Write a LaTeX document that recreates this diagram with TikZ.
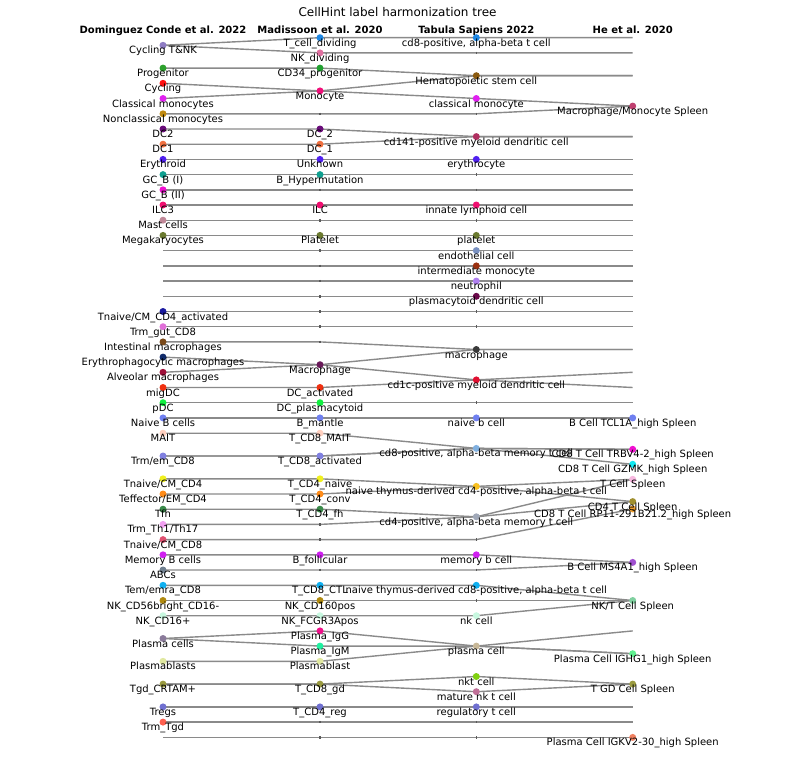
\documentclass[tikz,border=0pt]{standalone}
\usepackage{fontspec}
\setmainfont{DejaVu Sans}
\definecolor{lnc}{HTML}{8A8A8A}
\definecolor{tkc}{HTML}{5A5A5A}
\newcommand\pos[3]{\coordinate (#1) at (#2,#3);}
\newcommand\mk[3]{\definecolor{cc}{HTML}{#2}\node[dot,fill=cc] (#1d) at (#1) {};\node[lbl] (#1t) at ([yshift=-8.5pt]#1) {#3};}
\newcommand\tick[1]{\draw[tk] ([yshift=1.3pt]#1) -- ([yshift=-1.3pt]#1);}
\begin{document}
\begin{tikzpicture}[x=1pt,y=-1pt,
  ln/.style={draw=lnc,line width=1.4pt,line join=round},
  dot/.style={circle,inner sep=0pt,minimum size=7pt,draw=none},
  lbl/.style={anchor=base,inner sep=0pt,font=\fontsize{10}{12}\selectfont},
  hdr/.style={anchor=base,inner sep=0pt,font=\fontsize{10}{12}\selectfont\bfseries},
  tk/.style={draw=tkc,line width=1.4pt}]
\useasboundingbox (0,0) rectangle (795,760);
\def\xa{163}\def\xb{320}\def\xc{476.3}\def\xd{632.7}
% ---- column A positions
\pos{A0}{\xa}{45.3}\pos{A2}{\xa}{68.1}\pos{A3}{\xa}{83.3}\pos{A4}{\xa}{98.5}
\pos{A5}{\xa}{113.8}\pos{A6}{\xa}{129.0}\pos{A7}{\xa}{144.2}\pos{A8}{\xa}{159.4}
\pos{A9}{\xa}{174.6}\pos{A10}{\xa}{189.8}\pos{A11}{\xa}{205.0}\pos{A12}{\xa}{220.2}
\pos{A13}{\xa}{235.4}\pos{A14}{\xa}{250.6}\pos{A15}{\xa}{265.9}\pos{A16}{\xa}{281.1}
\pos{A17}{\xa}{296.3}\pos{A18}{\xa}{311.5}\pos{A19}{\xa}{326.7}\pos{A20}{\xa}{341.9}
\pos{A21}{\xa}{357.1}\pos{A22}{\xa}{372.3}\pos{A23}{\xa}{387.5}\pos{A24}{\xa}{402.7}
\pos{A25}{\xa}{417.9}\pos{A26}{\xa}{433.2}\pos{A27}{\xa}{456.0}\pos{A29}{\xa}{478.8}
\pos{A30}{\xa}{494.0}\pos{A31}{\xa}{509.2}\pos{A32}{\xa}{524.4}\pos{A33}{\xa}{539.6}
\pos{A34}{\xa}{554.8}\pos{A35}{\xa}{570.0}\pos{A36}{\xa}{585.3}\pos{A37}{\xa}{600.5}
\pos{A38}{\xa}{615.7}\pos{A39}{\xa}{638.5}\pos{A41}{\xa}{661.3}\pos{A42}{\xa}{684.1}
\pos{A44}{\xa}{706.9}\pos{A45}{\xa}{722.1}\pos{A46}{\xa}{737.4}
% ---- column B positions
\pos{B0}{\xb}{37.7}\pos{B1}{\xb}{52.9}\pos{B2}{\xb}{68.1}\pos{B3}{\xb}{90.9}
\pos{B5}{\xb}{113.8}\pos{B6}{\xb}{129.0}\pos{B7}{\xb}{144.2}\pos{B8}{\xb}{159.4}
\pos{B9}{\xb}{174.6}\pos{B10}{\xb}{189.8}\pos{B11}{\xb}{205.0}\pos{B12}{\xb}{220.2}
\pos{B13}{\xb}{235.4}\pos{B14}{\xb}{250.6}\pos{B15}{\xb}{265.9}\pos{B16}{\xb}{281.1}
\pos{B17}{\xb}{296.3}\pos{B18}{\xb}{311.5}\pos{B19}{\xb}{326.7}\pos{B20}{\xb}{341.9}
\pos{B21}{\xb}{364.7}\pos{B23}{\xb}{387.5}\pos{B24}{\xb}{402.7}\pos{B25}{\xb}{417.9}
\pos{B26}{\xb}{433.2}\pos{B27}{\xb}{456.0}\pos{B29}{\xb}{478.8}\pos{B30}{\xb}{494.0}
\pos{B31}{\xb}{509.2}\pos{B32}{\xb}{524.4}\pos{B33}{\xb}{539.6}\pos{B34}{\xb}{554.8}
\pos{B35}{\xb}{570.0}\pos{B36}{\xb}{585.3}\pos{B37}{\xb}{600.5}\pos{B38}{\xb}{615.7}
\pos{B39}{\xb}{630.9}\pos{B40}{\xb}{646.1}\pos{B41}{\xb}{661.3}\pos{B42}{\xb}{684.1}
\pos{B44}{\xb}{706.9}\pos{B45}{\xb}{722.1}\pos{B46}{\xb}{737.4}
% ---- column C positions
\pos{C0}{\xc}{37.7}\pos{C1}{\xc}{52.9}\pos{C2}{\xc}{75.7}\pos{C4}{\xc}{98.5}
\pos{C5}{\xc}{113.8}\pos{C6}{\xc}{136.6}\pos{C8}{\xc}{159.4}\pos{C9}{\xc}{174.6}
\pos{C10}{\xc}{189.8}\pos{C11}{\xc}{205.0}\pos{C12}{\xc}{220.2}\pos{C13}{\xc}{235.4}
\pos{C14}{\xc}{250.6}\pos{C15}{\xc}{265.9}\pos{C16}{\xc}{281.1}\pos{C17}{\xc}{296.3}
\pos{C18}{\xc}{311.5}\pos{C19}{\xc}{326.7}\pos{C20}{\xc}{349.5}\pos{C22}{\xc}{379.9}
\pos{C24}{\xc}{402.7}\pos{C25}{\xc}{417.9}\pos{C27}{\xc}{448.4}\pos{C29}{\xc}{486.4}
\pos{C31}{\xc}{516.8}\pos{C33}{\xc}{539.6}\pos{C34}{\xc}{554.8}\pos{C35}{\xc}{570.0}
\pos{C36}{\xc}{585.3}\pos{C37}{\xc}{600.5}\pos{C38}{\xc}{615.7}\pos{C40}{\xc}{646.1}
\pos{C42}{\xc}{676.5}\pos{C43}{\xc}{691.7}\pos{C44}{\xc}{706.9}\pos{C45}{\xc}{722.1}
\pos{C46}{\xc}{737.4}
% ---- column D positions
\pos{Dn0}{\xd}{37.7}\pos{Dn1}{\xd}{52.9}\pos{Dn2}{\xd}{75.7}\pos{D4}{\xd}{106.1}
\pos{Dn6}{\xd}{136.6}\pos{Dn8}{\xd}{159.4}\pos{Dn9}{\xd}{174.6}\pos{Dn10}{\xd}{189.8}
\pos{Dn11}{\xd}{205.0}\pos{Dn12}{\xd}{220.2}\pos{Dn13}{\xd}{235.4}\pos{Dn14}{\xd}{250.6}
\pos{Dn15}{\xd}{265.9}\pos{Dn16}{\xd}{281.1}\pos{Dn17}{\xd}{296.3}\pos{Dn18}{\xd}{311.5}
\pos{Dn19}{\xd}{326.7}\pos{Dn20}{\xd}{349.5}\pos{Dn22}{\xd}{372.3}\pos{Dn23}{\xd}{387.5}
\pos{Dn24}{\xd}{402.7}\pos{D25}{\xd}{417.9}\pos{D27}{\xd}{449.3}\pos{D28}{\xd}{464.3}
\pos{D29}{\xd}{479.3}\pos{D30}{\xd}{501.6}\pos{D31}{\xd}{509.0}\pos{D34}{\xd}{562.4}
\pos{D37}{\xd}{600.5}\pos{Dn39}{\xd}{630.9}\pos{D40}{\xd}{653.7}\pos{D42}{\xd}{684.1}
\pos{Dn44}{\xd}{706.9}\pos{Dn45}{\xd}{722.1}\pos{D46}{\xd}{737.4}
% ---- title and headers
\node[anchor=base,inner sep=0pt,font=\fontsize{12}{14}\selectfont] (title) at (397.5,17) {CellHint label harmonization tree};
\node[hdr] (hA) at (\xa,33.3) {Dominguez Conde et al. 2022};
\node[hdr] (hB) at (\xb,33.3) {Madissoon et al. 2020};
\node[hdr] (hC) at (\xc,33.3) {Tabula Sapiens 2022};
\node[hdr] (hD) at (\xd,33.3) {He et al. 2020};
% ---- connectors
\draw[ln] (A0)--(B0)--(C0)--(Dn0);
\draw[ln] (A0)--(B1)--(C1)--(Dn1);
\draw[ln] (A2)--(B2)--(C2)--(Dn2);
\draw[ln] (A3)--(B3)--(C2)--(Dn2);
\draw[ln] (A4)--(B3)--(C4)--(D4);
\draw[ln] (A5)--(B5)--(C5)--(D4);
\draw[ln] (A6)--(B6)--(C6)--(Dn6);
\draw[ln] (A7)--(B7)--(C6)--(Dn6);
\draw[ln] (A8)--(B8)--(C8)--(Dn8);
\draw[ln] (A9)--(B9)--(C9)--(Dn9);
\draw[ln] (A10)--(B10)--(C10)--(Dn10);
\draw[ln] (A11)--(B11)--(C11)--(Dn11);
\draw[ln] (A12)--(B12)--(C12)--(Dn12);
\draw[ln] (A13)--(B13)--(C13)--(Dn13);
\draw[ln] (A14)--(B14)--(C14)--(Dn14);
\draw[ln] (A15)--(B15)--(C15)--(Dn15);
\draw[ln] (A16)--(B16)--(C16)--(Dn16);
\draw[ln] (A17)--(B17)--(C17)--(Dn17);
\draw[ln] (A18)--(B18)--(C18)--(Dn18);
\draw[ln] (A19)--(B19)--(C19)--(Dn19);
\draw[ln] (A20)--(B20)--(C20)--(Dn20);
\draw[ln] (A21)--(B21)--(C20)--(Dn20);
\draw[ln] (A22)--(B21)--(C22)--(Dn22);
\draw[ln] (A23)--(B23)--(C22)--(Dn23);
\draw[ln] (A24)--(B24)--(C24)--(Dn24);
\draw[ln] (A25)--(B25)--(C25)--(D25);
\draw[ln] (A26)--(B26)--(C27)--(D27);
\draw[ln] (A27)--(B27)--(C27)--(D27);
\draw[ln] (A27)--(B27)--(C27)--(D28);
\draw[ln] (A29)--(B29)--(C29)--(D30);
\draw[ln] (A30)--(B30)--(C29)--(D29);
\draw[ln] (A31)--(B31)--(C31)--(D30);
\draw[ln] (A32)--(B32)--(C31)--(D29);
\draw[ln] (A33)--(B33)--(C33)--(D31);
\draw[ln] (A34)--(B34)--(C34)--(D34);
\draw[ln] (A35)--(B35)--(C35)--(D34);
\draw[ln] (A36)--(B36)--(C36)--(D37);
\draw[ln] (A37)--(B37)--(C37)--(D37);
\draw[ln] (A38)--(B38)--(C38)--(D37);
\draw[ln] (A39)--(B39)--(C40)--(Dn39);
\draw[ln] (A39)--(B40)--(C40)--(D40);
\draw[ln] (A41)--(B41)--(C40)--(D40);
\draw[ln] (A42)--(B42)--(C42)--(D42);
\draw[ln] (A42)--(B42)--(C43)--(D42);
\draw[ln] (A44)--(B44)--(C44)--(Dn44);
\draw[ln] (A45)--(B45)--(C45)--(Dn45);
\draw[ln] (A46)--(B46)--(C46)--(D46);
% ---- unmatched ticks
\foreach \t in {B5,B10,B12,B14,B15,B16,B17,B18,B19,B20,B32,B33,B35,B45,B46,
  C1,C5,C9,C10,C12,C18,C19,C24,C33,C35,C37,C45,C46} {\tick{\t}}
% ---- column A cells
\mk{A0}{8E7CC3}{Cycling T\&NK}
\mk{A2}{2CA02C}{Progenitor}
\mk{A3}{FF1010}{Cycling}
\mk{A4}{E020F0}{Classical monocytes}
\mk{A5}{C08A10}{Nonclassical monocytes}
\mk{A6}{6A0D7A}{DC2}
\mk{A7}{F07040}{DC1}
\mk{A8}{5020F0}{Erythroid}
\mk{A9}{10A090}{GC\_B (I)}
\mk{A10}{F010D0}{GC\_B (II)}
\mk{A11}{F01070}{ILC3}
\mk{A12}{C08898}{Mast cells}
\mk{A13}{6B7A30}{Megakaryocytes}
\mk{A18}{1A1AA0}{Tnaive/CM\_CD4\_activated}
\mk{A19}{E070D8}{Trm\_gut\_CD8}
\mk{A20}{7A4A1A}{Intestinal macrophages}
\mk{A21}{102A6A}{Erythrophagocytic macrophages}
\mk{A22}{A0103A}{Alveolar macrophages}
\mk{A23}{F03010}{migDC}
\mk{A24}{10F040}{pDC}
\mk{A25}{7080F0}{Naive B cells}
\mk{A26}{FFD0C0}{MAIT}
\mk{A27}{8080E0}{Trm/em\_CD8}
\mk{A29}{F0F020}{Tnaive/CM\_CD4}
\mk{A30}{FF8C1A}{Teffector/EM\_CD4}
\mk{A31}{3A8A4A}{Tfh}
\mk{A32}{F0A0F0}{Trm\_Th1/Th17}
\mk{A33}{E05070}{Tnaive/CM\_CD8}
\mk{A34}{D020F0}{Memory B cells}
\mk{A35}{708090}{ABCs}
\mk{A36}{10B0F0}{Tem/emra\_CD8}
\mk{A37}{B08A10}{NK\_CD56bright\_CD16-}
\mk{A38}{C8F8E0}{NK\_CD16+}
\mk{A39}{8A7A9A}{Plasma cells}
\mk{A41}{E0E8A0}{Plasmablasts}
\mk{A42}{9A9A40}{Tgd\_CRTAM+}
\mk{A44}{7070D0}{Tregs}
\mk{A45}{FF6050}{Trm\_Tgd}
% ---- column B cells
\mk{B0}{1E88E5}{T\_cell\_dividing}
\mk{B1}{E070A0}{NK\_dividing}
\mk{B2}{20A030}{CD34\_progenitor}
\mk{B3}{F0107A}{Monocyte}
\mk{B6}{6A0D7A}{DC\_2}
\mk{B7}{F07040}{DC\_1}
\mk{B8}{5020F0}{Unknown}
\mk{B9}{10A090}{B\_Hypermutation}
\mk{B11}{F01070}{ILC}
\mk{B13}{6B7A30}{Platelet}
\mk{B21}{6A1A5A}{Macrophage}
\mk{B23}{F03010}{DC\_activated}
\mk{B24}{10F040}{DC\_plasmacytoid}
\mk{B25}{7080F0}{B\_mantle}
\mk{B26}{FFD0C0}{T\_CD8\_MAIT}
\mk{B27}{8080E0}{T\_CD8\_activated}
\mk{B29}{F0F020}{T\_CD4\_naive}
\mk{B30}{FF8C1A}{T\_CD4\_conv}
\mk{B31}{3A8A4A}{T\_CD4\_fh}
\mk{B34}{D020F0}{B\_follicular}
\mk{B36}{10B0F0}{T\_CD8\_CTL}
\mk{B37}{B08A10}{NK\_CD160pos}
\mk{B38}{C8F8E0}{NK\_FCGR3Apos}
\mk{B39}{F0108A}{Plasma\_IgG}
\mk{B40}{20F0A0}{Plasma\_IgM}
\mk{B41}{E0E8A0}{Plasmablast}
\mk{B42}{9A9A40}{T\_CD8\_gd}
\mk{B44}{7070D0}{T\_CD4\_reg}
% ---- column C cells
\mk{C0}{1E88E5}{cd8-positive, alpha-beta t cell}
\mk{C2}{8A5A10}{Hematopoietic stem cell}
\mk{C4}{E020F0}{classical monocyte}
\mk{C6}{B03060}{cd141-positive myeloid dendritic cell}
\mk{C8}{5020F0}{erythrocyte}
\mk{C11}{F01070}{innate lymphoid cell}
\mk{C13}{6B7A30}{platelet}
\mk{C14}{7890C0}{endothelial cell}
\mk{C15}{9A3010}{intermediate monocyte}
\mk{C16}{B080F0}{neutrophil}
\mk{C17}{6A0A4A}{plasmacytoid dendritic cell}
\mk{C20}{3A3A3A}{macrophage}
\mk{C22}{E01030}{cd1c-positive myeloid dendritic cell}
\mk{C25}{7080F0}{naive b cell}
\mk{C27}{80B0E0}{cd8-positive, alpha-beta memory t cell}
\mk{C29}{F8C020}{naive thymus-derived cd4-positive, alpha-beta t cell}
\mk{C31}{A0A8B8}{cd4-positive, alpha-beta memory t cell}
\mk{C34}{D020F0}{memory b cell}
\mk{C36}{10B0F0}{naive thymus-derived cd8-positive, alpha-beta t cell}
\mk{C38}{C8F8E0}{nk cell}
\mk{C40}{C8B898}{plasma cell}
\mk{C42}{80D010}{nkt cell}
\mk{C43}{C07098}{mature nk t cell}
\mk{C44}{7070D0}{regulatory t cell}
% ---- column D cells
\mk{D4}{C04070}{Macrophage/Monocyte Spleen}
\mk{D25}{7080F0}{B Cell TCL1A\_high Spleen}
\mk{D27}{F010D0}{CD8 T Cell TRBV4-2\_high Spleen}
\mk{D28}{10E8F0}{CD8 T Cell GZMK\_high Spleen}
\mk{D29}{F8B8E0}{T Cell Spleen}
\mk{D31}{F0A030}{CD8 T Cell RP11-291B21.2\_high Spleen}
\mk{D30}{A09030}{CD4 T Cell Spleen}
\mk{D34}{A050D0}{B Cell MS4A1\_high Spleen}
\mk{D37}{80D0A0}{NK/T Cell Spleen}
\mk{D40}{60F090}{Plasma Cell IGHG1\_high Spleen}
\mk{D42}{9A9A40}{T GD Cell Spleen}
\mk{D46}{F08060}{Plasma Cell IGKV2-30\_high Spleen}
\end{tikzpicture}
\end{document}
